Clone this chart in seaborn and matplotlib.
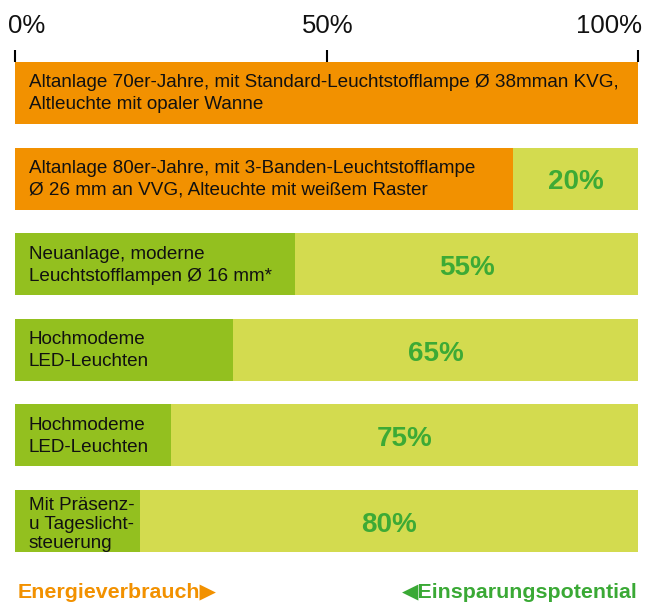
import matplotlib
matplotlib.use("Agg")
import matplotlib.pyplot as plt
import matplotlib.transforms as mtransforms
import seaborn as sns
import pandas as pd

sns.set_theme(style="white")
plt.rcParams['font.family'] = ['Liberation Sans', 'DejaVu Sans']

# ---- data ----
categories = [
    "Altanlage 70er-Jahre, mit Standard-Leuchtstofflampe Ø 38mman KVG,\nAltleuchte mit opaler Wanne",
    "Altanlage 80er-Jahre, mit 3-Banden-Leuchtstofflampe\nØ 26 mm an VVG, Alteuchte mit weißem Raster",
    "Neuanlage, moderne\nLeuchtstofflampen Ø 16 mm*",
    "Hochmodeme\nLED-Leuchten",
    "Hochmodeme\nLED-Leuchten ",
    "Mit Präsenz-\nu Tageslicht-\nsteuerung",
]
consumption = [100, 80, 45, 35, 25, 20]
savings = [0, 20, 55, 65, 75, 80]
tick_values = [0, 50, 100]
tick_labels = ["0%", "50%", "100%"]
legend_left = "Energieverbrauch\u25B6"
legend_right = "\u25C0Einsparungspotential"

ORANGE = "#F29100"
DARK_GREEN = "#93C01F"
LIGHT_GREEN = "#D3DB4F"
PCT_GREEN = "#3DAA35"

bar_colors = [ORANGE, ORANGE, DARK_GREEN, DARK_GREEN, DARK_GREEN, DARK_GREEN]

df = pd.DataFrame({"cat": categories, "cons": consumption, "sav": savings})
df["total"] = df["cons"] + df["sav"]

W, H = 645, 603
fig = plt.figure(figsize=(W / 100, H / 100), dpi=100)
row_px = 85.6
ax_top_px = 93 - row_px / 2
ax_bot_px = 521 + row_px / 2
ax = fig.add_axes([15 / W, (H - ax_bot_px) / H, 623 / W, (ax_bot_px - ax_top_px) / H])

bar_w = 62 / row_px
sns.barplot(data=df, x="total", y="cat", color=LIGHT_GREEN, orient="h",
            width=bar_w, ax=ax, saturation=1, linewidth=0)
sns.barplot(data=df, x="cons", y="cat", hue="cat", palette=bar_colors, orient="h",
            width=bar_w, ax=ax, saturation=1, linewidth=0, legend=False)

ax.set_xlim(0, 100)
ax.set_ylim(len(categories) - 0.5, -0.5)
for s in ax.spines.values():
    s.set_visible(False)
ax.set_xlabel("")
ax.set_ylabel("")
ax.set_yticks([])
ax.xaxis.tick_top()
ax.set_xticks(tick_values)
ax.set_xticklabels(tick_labels)
ax.tick_params(axis="x", direction="in", length=8.8, width=1.5, color="black",
               labelsize=18.5, pad=9, labelcolor="#111111", top=True, bottom=False)
labels = ax.get_xticklabels()
offsets = [(-7, "left"), (1, "center"), (4, "right")]
for lab, (dx, ha) in zip(labels, offsets):
    lab.set_ha(ha)
    lab.set_transform(lab.get_transform() + mtransforms.ScaledTranslation(dx / 100, 0, fig.dpi_scale_trans))

# category text inside bars
for i, cat in enumerate(categories):
    nlines = cat.strip().count("\n") + 1
    ls = 1.38 if nlines == 2 else 1.18
    dy = -0.6 if nlines == 2 else -2.6
    ax.annotate(cat.strip(), xy=(0, i), xytext=(10, dy), textcoords="offset points",
                ha="left", va="center", fontsize=13.6, color="#111111", linespacing=ls)

# savings percentage labels
for i, (c, s) in enumerate(zip(consumption, savings)):
    if s > 0:
        ax.annotate(f"{s}%", xy=(c + s / 2, i), xytext=(0, -2.8), textcoords="offset points",
                    ha="center", va="center", fontsize=20, fontweight="bold", color=PCT_GREEN)

fig.text(18 / W, 1 - 592 / H, legend_left, ha="left", va="center", fontsize=15.4,
         fontweight="bold", color=ORANGE)
fig.text(638 / W, 1 - 592 / H, legend_right, ha="right", va="center", fontsize=15.4,
         fontweight="bold", color="#3AA935")

fig.savefig("out.png", dpi=100)
